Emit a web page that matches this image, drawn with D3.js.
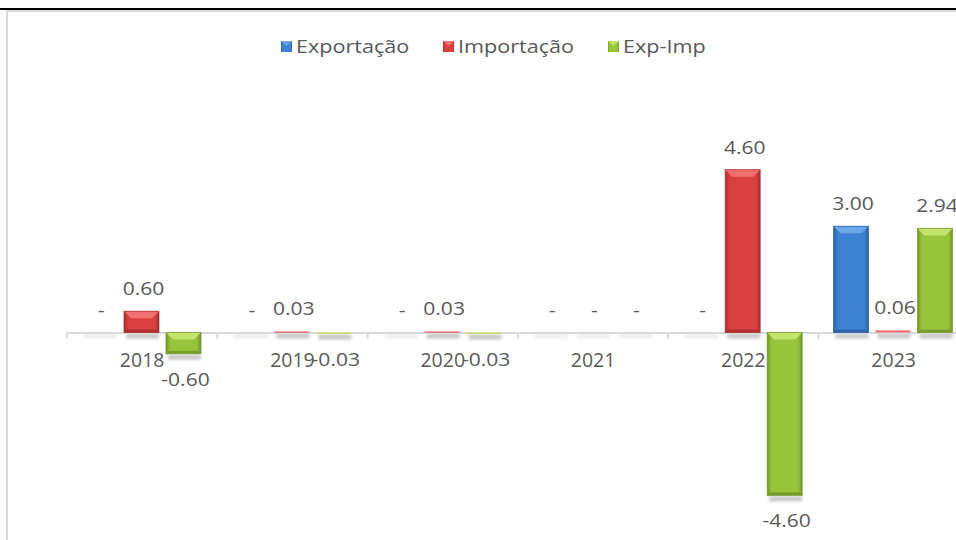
<!DOCTYPE html>
<html>
<head>
<meta charset="utf-8">
<script src="https://cdn.jsdelivr.net/npm/d3@7"></script>
<style>
  html, body { margin: 0; padding: 0; background: #fff; }
  svg { display: block; font-family: "Open Sans", sans-serif; }
</style>
</head>
<body>
<svg id="chart" width="956" height="540"></svg>
<script>
const years = ["2018", "2019", "2020", "2021", "2022", "2023"];
const seriesNames = ["Exportação", "Importação", "Exp-Imp"];
const exportacao = [0, 0, 0, 0, 0, 3.00];
const importacao = [0.60, 0.03, 0.03, 0, 4.60, 0.06];
const expImp = [-0.60, -0.03, -0.03, 0, -4.60, 2.94];

const width = 956;
const height = 540;

// colors per series: edge, mid, bevel highlight
const palette = {
  "Exportação": { dark: "#2a5f9e", mid: "#3d83d2", light: "#6aa6e8" },
  "Importação": { dark: "#a82c2c", mid: "#d94040", light: "#f07070" },
  "Exp-Imp":    { dark: "#6f9428", mid: "#98c43c", light: "#c4e46c" }
};

const svg = d3.select("#chart");
const defs = svg.append("defs");

seriesNames.forEach((s, i) => {
  const c = palette[s];
  const g = defs.append("linearGradient").attr("id", "grad" + i)
    .attr("x1", "0%").attr("x2", "100%").attr("y1", "0%").attr("y2", "0%");
  g.append("stop").attr("offset", "0%").attr("stop-color", c.dark);
  g.append("stop").attr("offset", "12%").attr("stop-color", c.mid);
  g.append("stop").attr("offset", "88%").attr("stop-color", c.mid);
  g.append("stop").attr("offset", "100%").attr("stop-color", c.dark);
});

defs.append("filter").attr("id", "blur")
  .attr("x", "-30%").attr("y", "-200%").attr("width", "160%").attr("height", "500%")
  .append("feGaussianBlur").attr("stdDeviation", 1.8);

// frame
svg.append("line").attr("x1", 0).attr("x2", width).attr("y1", 9).attr("y2", 9)
  .attr("stroke", "#000").attr("stroke-width", 2);
svg.append("line").attr("x1", 7).attr("x2", width).attr("y1", 11).attr("y2", 11)
  .attr("stroke", "#d9d9d9").attr("stroke-width", 2);
svg.append("line").attr("x1", 7).attr("x2", 7).attr("y1", 10).attr("y2", height)
  .attr("stroke", "#d9d9d9").attr("stroke-width", 2);

const x0 = d3.scaleBand().domain(years).range([67, 67 + 6 * 150.3]);
const x1 = d3.scaleBand().domain(seriesNames).range([15, 134]).paddingInner(1 / 6);
const y = d3.scaleLinear().domain([-5, 5]).range([509.5, 155.5]);

const data = [];
years.forEach((yr, i) => {
  [exportacao, importacao, expImp].forEach((arr, j) => {
    data.push({ year: yr, series: seriesNames[j], idx: j, value: arr[i] });
  });
});

// shadows
svg.append("g").selectAll("rect")
  .data(data)
  .join("rect")
  .attr("x", d => x0(d.year) + x1(d.series) + 2)
  .attr("width", x1.bandwidth() - 2)
  .attr("y", d => Math.max(y(d.value), y(0)) + 1)
  .attr("height", 5)
  .attr("fill", "#000")
  .attr("opacity", d => d.value === 0 ? 0.07 : 0.22)
  .attr("filter", "url(#blur)");

// axis
const axis = svg.append("g").attr("transform", `translate(0,${y(0)})`)
  .call(d3.axisBottom(x0).tickSize(0).tickFormat(""));
axis.select(".domain").attr("stroke", "#d9d9d9").attr("stroke-width", 2);
const bounds = years.map(yr => x0(yr)).concat([x0(years[5]) + x0.bandwidth()]);
axis.selectAll(".sep").data(bounds).join("line")
  .attr("class", "sep")
  .attr("x1", d => d).attr("x2", d => d).attr("y1", 0).attr("y2", 6)
  .attr("stroke", "#d9d9d9").attr("stroke-width", 2);

// category labels
svg.append("g").selectAll("text")
  .data(years)
  .join("text")
  .attr("x", d => x0(d) + x0.bandwidth() / 2)
  .attr("y", 367)
  .attr("text-anchor", "middle")
  .attr("font-size", 19.5)
  .attr("fill", "#595959")
  .text(d => d);

// bars
const bars = svg.append("g").selectAll("g.bar")
  .data(data.filter(d => d.value !== 0))
  .join("g").attr("class", "bar");

bars.each(function(d) {
  const g = d3.select(this);
  const bx = x0(d.year) + x1(d.series);
  const bw = x1.bandwidth();
  const top = Math.min(y(d.value), y(0));
  const bh = Math.max(1.5, Math.abs(y(d.value) - y(0)));
  const c = palette[d.series];
  g.append("rect").attr("x", bx).attr("y", top).attr("width", bw).attr("height", bh)
    .attr("fill", `url(#grad${d.idx})`);
  if (bh > 12) {
    const bev = 7;
    g.append("polygon")
      .attr("points", [[bx, top], [bx + bw, top], [bx + bw - bev, top + bev], [bx + bev, top + bev]].join(" "))
      .attr("fill", c.light);
    g.append("polygon")
      .attr("points", [[bx, top + bh], [bx + bw, top + bh], [bx + bw - 3, top + bh - 3], [bx + 3, top + bh - 3]].join(" "))
      .attr("fill", c.dark).attr("opacity", 0.8);
    g.append("rect").attr("x", bx).attr("y", top).attr("width", bw).attr("height", bh)
      .attr("fill", "none").attr("stroke", c.dark).attr("stroke-width", 1).attr("opacity", 0.7);
  } else {
    g.select("rect").attr("fill", c.light);
  }
});

// data labels (text is a little wider in the original, so stretch horizontally)
const fmt = d => d === 0 ? "-" : d.toFixed(2);
svg.append("g").selectAll("text")
  .data(data)
  .join("text")
  .attr("transform", d => {
    const tx = x0(d.year) + x1(d.series) + x1.bandwidth() / 2 + 2;
    const ty = d.value < 0 ? y(d.value) + 32 : y(d.value) - 16;
    return `translate(${tx},${ty}) scale(1.17,1)`;
  })
  .attr("text-anchor", "middle")
  .attr("font-size", 18)
  .attr("fill", "#595959")
  .text(d => fmt(d.value));

// legend
const legendItems = [
  { name: "Exportação", x: 281 },
  { name: "Importação", x: 443 },
  { name: "Exp-Imp", x: 608 }
];
const legend = svg.append("g").selectAll("g")
  .data(legendItems)
  .join("g")
  .attr("transform", d => `translate(${d.x},41)`);
legend.append("rect").attr("width", 11).attr("height", 11)
  .attr("fill", (d, i) => `url(#grad${i})`);
legend.append("polygon").attr("points", "0,0 11,0 5.5,5")
  .attr("fill", d => palette[d.name].light);
legend.append("text")
  .attr("transform", "translate(15,12) scale(1.2,1)")
  .attr("font-size", 18)
  .attr("fill", "#595959")
  .text(d => d.name);
</script>
</body>
</html>
